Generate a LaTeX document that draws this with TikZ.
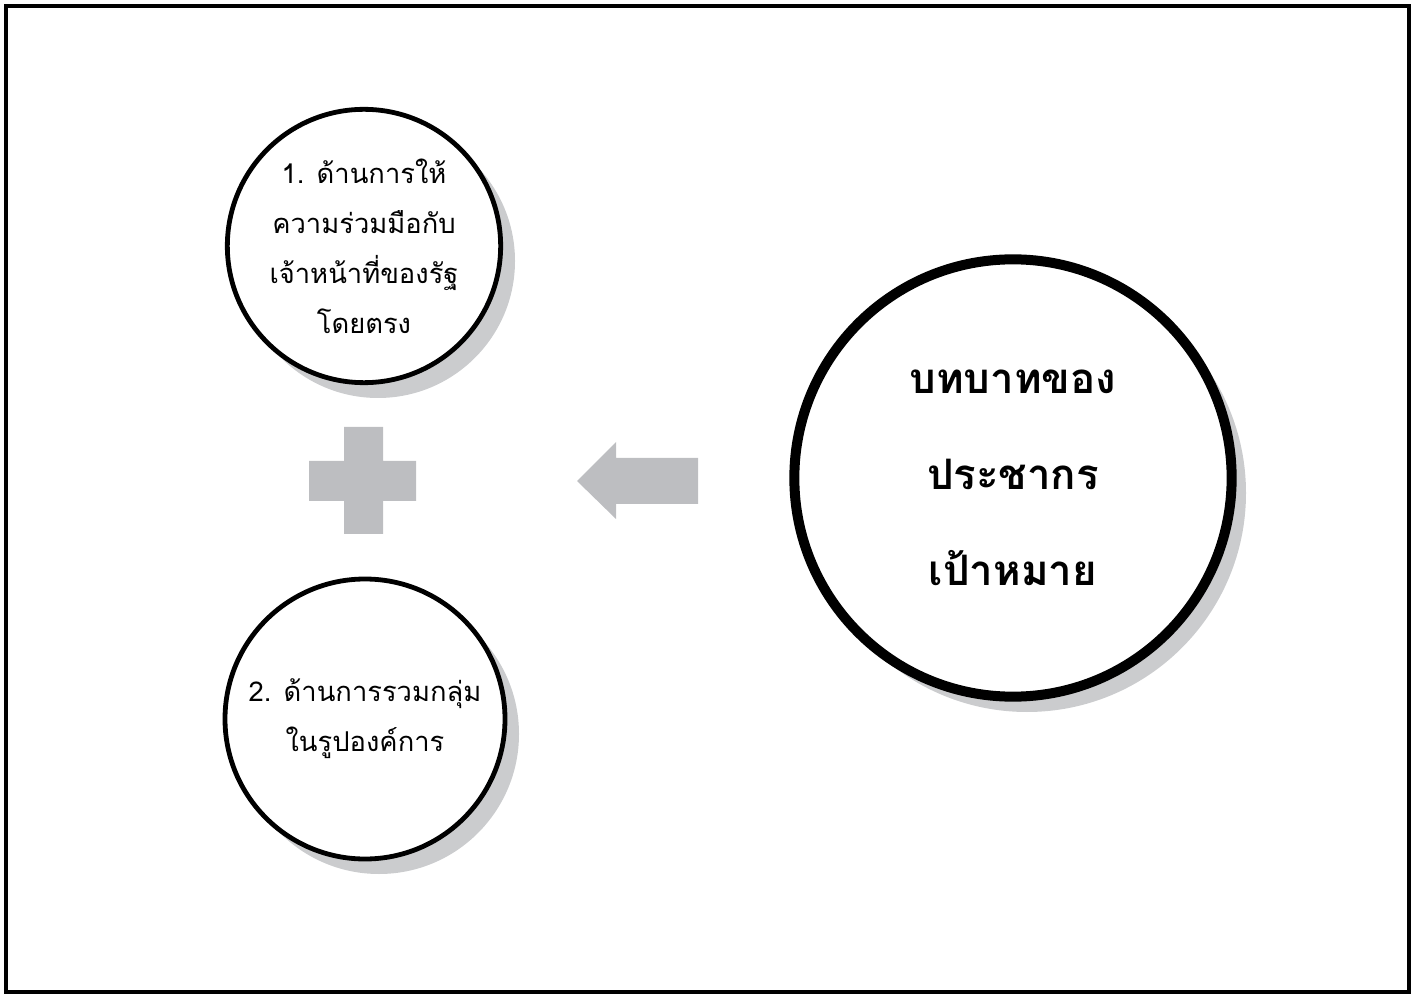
\documentclass[tikz,border=0pt]{standalone}
\usepackage{fontspec}
\newfontfamily\thaifont[Script=Thai]{Loma}
\begin{document}
\begin{tikzpicture}[x=0.75pt,y=-0.75pt,
  shadowc/.style={fill=shadowgray,draw=none},
  bubble/.style={circle,draw=black,fill=white,align=center,inner sep=0pt},
  small/.style={bubble,line width=3.6pt,minimum size=205pt,font=\thaifont\fontsize{20.5}{37.5}\selectfont},
  big/.style={bubble,line width=7.5pt,minimum size=328pt,font=\thaifont\bfseries\fontsize{31.5}{72}\selectfont},
  graysym/.style={fill=symgray,draw=none}]
\definecolor{shadowgray}{HTML}{CBCCCE}
\definecolor{symgray}{HTML}{BDBEC1}
\useasboundingbox (0,0) rectangle (1417,994);
\draw[line width=3pt] (6,6) rectangle (1408.5,992);
% shadows
\fill[shadowc] (378,261) circle[radius=137];
\fill[shadowc] (379,734) circle[radius=140];
\fill[shadowc] (1027,493) circle[radius=219];
% circles
\node[small] (c1) at (364,246) {1. ด้านการให้\\ความร่วมมือกับ\\เจ้าหน้าที่ของรัฐ\\โดยตรง};
\node[small,minimum size=210pt] (c2) at (365,719) {2. ด้านการรวมกลุ่ม\\ในรูปองค์การ};
\node[big] (c3) at (1013,478) {บทบาทของ\\ประชากร\\เป้าหมาย};
% plus
\fill[graysym] (344,427) -- (383,427) -- (383,461) -- (416,461) -- (416,501) -- (383,501) -- (383,534) -- (344,534) -- (344,501) -- (309,501) -- (309,461) -- (344,461) -- cycle;
% arrow
\fill[graysym] (577,481) -- (616,442) -- (616,458) -- (698,458) -- (698,504) -- (616,504) -- (616,519) -- cycle;
\end{tikzpicture}
\end{document}
